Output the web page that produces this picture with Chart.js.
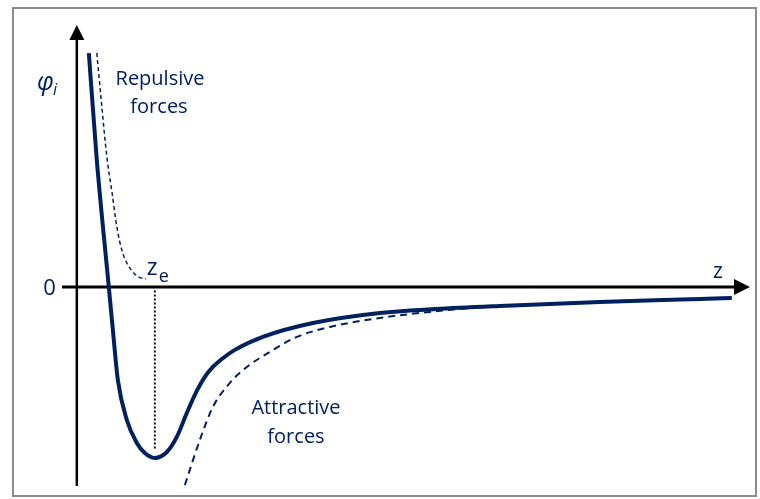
<!DOCTYPE html>
<html>
<head>
<meta charset="utf-8">
<title>Interaction potential</title>
<script src="https://cdn.jsdelivr.net/npm/chart.js@4.4.1/dist/chart.umd.min.js"></script>
<style>
  html, body { margin: 0; padding: 0; background: #fff; }
  #wrap { position: relative; width: 760px; height: 499px; }
  #frame {
    position: absolute; left: 12px; top: 7px; width: 741px; height: 486px;
    border: 2px solid #8c8c8c; pointer-events: none;
  }
  canvas { position: absolute; left: 0; top: 0; }
</style>
</head>
<body>
<div id="wrap">
  <canvas id="potChart" width="760" height="499"></canvas>
  <div id="frame"></div>
</div>
<script>
  // ---------- data (z in units of z_e, phi in units of the well depth) ----------
  const zE = 1.0;

  // total potential
  const totalZ   = [0.154, 0.256, 0.41, 0.462, 0.526, 0.641, 0.769, 0.872, 1.0, 1.154, 1.282, 1.41, 1.538, 1.641, 1.744, 1.859, 2.026, 2.385, 3.026, 3.885, 4.6, 5.42, 6.705, 7.987, 8.397];
  const totalPhi = [1.368, 0.743, 0, -0.251, -0.544, -0.778, -0.912, -0.971, -1.0, -0.965, -0.877, -0.737, -0.608, -0.526, -0.468, -0.421, -0.368, -0.292, -0.211, -0.152, -0.129, -0.111, -0.088, -0.07, -0.064];

  // repulsive branch
  const repZ   = [0.256, 0.321, 0.385, 0.449, 0.513, 0.577, 0.641, 0.718, 0.795, 0.885];
  const repPhi = [1.368, 1.053, 0.76, 0.56, 0.351, 0.216, 0.14, 0.088, 0.058, 0.047];

  // attractive branch
  const attZ   = [1.385, 1.577, 1.744, 1.962, 2.179, 2.474, 2.821, 3.244, 3.885, 4.526, 5.167];
  const attPhi = [-1.158, -0.895, -0.702, -0.561, -0.468, -0.38, -0.292, -0.234, -0.181, -0.146, -0.117];

  // marker from the axis down to the well bottom
  const markerPhi = [-0.02, -0.953];

  const axisLabels = { y: "φ", ySub: "i", x: "z", origin: "0", eq: "z", eqSub: "e" };
  const repLabel = ["Repulsive", "forces"];
  const attLabel = ["Attractive", "forces"];

  const NAVY = "#002060";
  const pts = (xs, ys) => xs.map((x, i) => ({ x: x, y: ys[i] }));

  // ---------- axes, arrows and annotations ----------
  const axesPlugin = {
    id: "axesPlugin",
    beforeDatasetsDraw(chart) {
      const { ctx, chartArea: a, scales: { x, y } } = chart;
      const x0 = x.getPixelForValue(0);
      const y0 = y.getPixelForValue(0);
      ctx.save();
      ctx.strokeStyle = "#000";
      ctx.fillStyle = "#000";

      // vertical axis
      ctx.lineWidth = 2.5;
      ctx.beginPath();
      ctx.moveTo(x0, a.bottom);
      ctx.lineTo(x0, a.top + 12);
      ctx.stroke();
      ctx.beginPath();
      ctx.moveTo(x0, a.top);
      ctx.lineTo(x0 - 7.5, a.top + 15);
      ctx.lineTo(x0 + 7.5, a.top + 15);
      ctx.closePath();
      ctx.fill();

      // horizontal axis
      ctx.lineWidth = 3;
      ctx.beginPath();
      ctx.moveTo(a.left, y0);
      ctx.lineTo(a.right - 12, y0);
      ctx.stroke();
      ctx.beginPath();
      ctx.moveTo(a.right, y0);
      ctx.lineTo(a.right - 16, y0 - 8);
      ctx.lineTo(a.right - 16, y0 + 8);
      ctx.closePath();
      ctx.fill();
      ctx.restore();
    },
    afterDraw(chart) {
      const { ctx, scales: { x, y } } = chart;
      const px = (v) => x.getPixelForValue(v);
      const py = (v) => y.getPixelForValue(v);
      ctx.save();
      ctx.fillStyle = NAVY;
      ctx.textBaseline = "alphabetic";

      // phi_i
      ctx.textAlign = "left";
      ctx.font = "italic 25px 'Open Sans'";
      ctx.fillText(axisLabels.y, 37, 90);
      ctx.font = "italic 16px 'Open Sans'";
      ctx.fillText(axisLabels.ySub, 53, 95);

      // origin
      ctx.font = "22px 'Open Sans'";
      ctx.textAlign = "right";
      ctx.fillText(axisLabels.origin, px(0) - 21, py(0) + 8);

      // z at the end of the axis
      ctx.textAlign = "left";
      ctx.font = "21px 'Open Sans'";
      ctx.fillText(axisLabels.x, 713, py(0) - 9);

      // z_e above the well bottom
      ctx.font = "23px 'Open Sans'";
      ctx.fillText(axisLabels.eq, px(zE) - 8, py(0) - 12);
      ctx.font = "18px 'Open Sans'";
      ctx.fillText(axisLabels.eqSub, px(zE) + 4, py(0) - 5);

      // branch captions
      ctx.textAlign = "center";
      ctx.font = "20px 'Open Sans'";
      ctx.fillText(repLabel[0], 160, 85);
      ctx.fillText(repLabel[1], 159, 113);
      ctx.fillText(attLabel[0], 296, 414);
      ctx.fillText(attLabel[1], 296, 443);
      ctx.restore();
    }
  };

  new Chart(document.getElementById("potChart"), {
    type: "line",
    data: {
      datasets: [
        {
          label: "marker",
          data: pts([zE, zE], markerPhi),
          borderColor: "#000",
          borderWidth: 1.8,
          borderDash: [2, 2],
          pointRadius: 0,
        },
        {
          label: "repulsive",
          data: pts(repZ, repPhi),
          borderColor: NAVY,
          borderWidth: 1.5,
          borderDash: [4, 3],
          cubicInterpolationMode: "monotone",
          pointRadius: 0,
        },
        {
          label: "attractive",
          data: pts(attZ, attPhi),
          borderColor: NAVY,
          borderWidth: 2,
          borderDash: [7, 5],
          cubicInterpolationMode: "monotone",
          pointRadius: 0,
        },
        {
          label: "total",
          data: pts(totalZ, totalPhi),
          borderColor: NAVY,
          borderWidth: 4,
          cubicInterpolationMode: "monotone",
          pointRadius: 0,
        },
      ],
    },
    options: {
      responsive: false,
      animation: false,
      devicePixelRatio: 1,
      layout: { padding: { left: 62, right: 10, top: 25, bottom: 13 } },
      plugins: { legend: { display: false }, tooltip: { enabled: false } },
      elements: { line: { borderCapStyle: "butt" } },
      clip: false,
      scales: {
        x: { type: "linear", min: -0.19, max: 8.63, display: false },
        y: { type: "linear", min: -1.164, max: 1.532, display: false },
      },
    },
    plugins: [axesPlugin],
  });
</script>
</body>
</html>
